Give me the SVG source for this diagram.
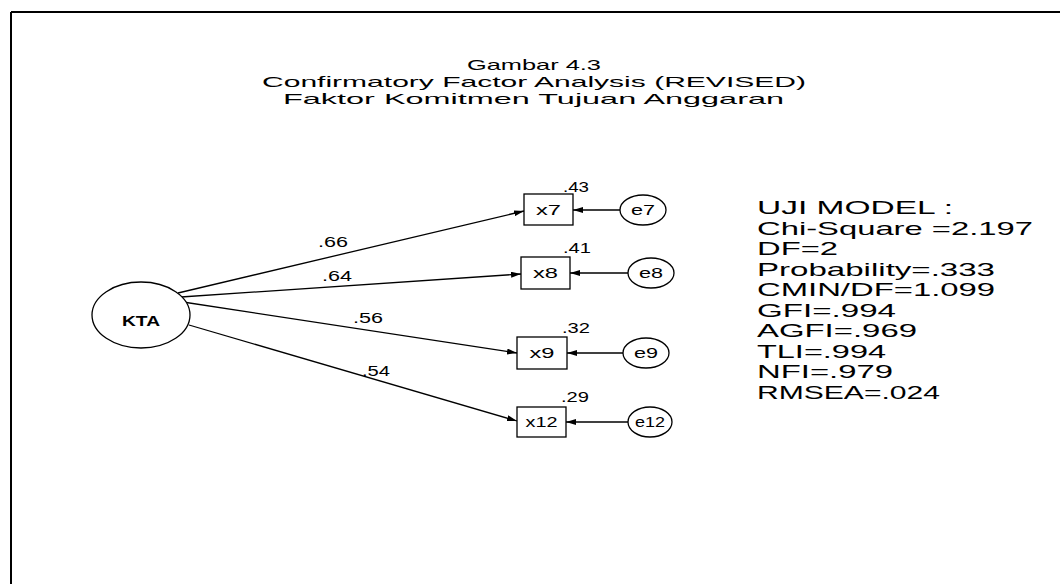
<svg xmlns="http://www.w3.org/2000/svg" width="1060" height="584" viewBox="0 0 1060 584">
<style>
  .t{font-family:"Liberation Sans",Arial,sans-serif;fill:#000}
  .title{font-size:15px}
  .fit{font-size:19px}
  .lbl{font-size:14px}
  .nd{font-size:14px}
  .shape{fill:#fff;stroke:#000;stroke-width:1.3}
  .edge{stroke:#000;stroke-width:1.3;fill:none}
</style>
<defs>
  <marker id="arr" markerUnits="userSpaceOnUse" viewBox="0 0 10 6" refX="10" refY="3" markerWidth="10" markerHeight="6" orient="auto">
    <path d="M0,0 L10,3 L0,6 Z" fill="#000"/>
  </marker>
</defs>
<rect x="0" y="0" width="1060" height="584" fill="#fff"/>
<g id="frame">
  <line x1="11" y1="12" x2="1060" y2="12" stroke="#000" stroke-width="2"/>
  <line x1="11" y1="12" x2="11" y2="584" stroke="#000" stroke-width="2"/>
</g>
<g id="title">
  <text class="t title" x="467" y="70" textLength="134" lengthAdjust="spacingAndGlyphs">Gambar 4.3</text>
  <text class="t title" x="262" y="87" textLength="544" lengthAdjust="spacingAndGlyphs">Confirmatory Factor Analysis (REVISED)</text>
  <text class="t title" x="283" y="104" textLength="501" lengthAdjust="spacingAndGlyphs">Faktor Komitmen Tujuan Anggaran</text>
</g>
<g id="connectors">
  <line class="edge" x1="178" y1="293" x2="524" y2="211" marker-end="url(#arr)"/>
  <line class="edge" x1="181" y1="297" x2="521" y2="274" marker-end="url(#arr)"/>
  <line class="edge" x1="183" y1="302" x2="517" y2="353" marker-end="url(#arr)"/>
  <line class="edge" x1="189" y1="325" x2="517" y2="421" marker-end="url(#arr)"/>
  <line class="edge" x1="620" y1="210" x2="573" y2="210" marker-end="url(#arr)"/>
  <line class="edge" x1="628" y1="273" x2="570" y2="273" marker-end="url(#arr)"/>
  <line class="edge" x1="623" y1="353" x2="567" y2="353" marker-end="url(#arr)"/>
  <line class="edge" x1="628" y1="422" x2="566" y2="422" marker-end="url(#arr)"/>
  <text class="t lbl" x="318" y="247" textLength="30" lengthAdjust="spacingAndGlyphs">.66</text>
  <text class="t lbl" x="322" y="281" textLength="30" lengthAdjust="spacingAndGlyphs">.64</text>
  <text class="t lbl" x="353" y="323" textLength="30" lengthAdjust="spacingAndGlyphs">.56</text>
  <text class="t lbl" x="362" y="376" textLength="28" lengthAdjust="spacingAndGlyphs">.54</text>
</g>
<g id="KTA">
  <ellipse class="shape" cx="141" cy="315" rx="49" ry="33"/>
  <text class="t nd" x="141" y="326" text-anchor="middle" textLength="38" lengthAdjust="spacingAndGlyphs" font-weight="bold">KTA</text>
</g>
<g id="x7">
  <rect class="shape" x="524" y="194" width="49" height="31"/>
  <text class="t nd" x="548.5" y="215" text-anchor="middle" textLength="25" lengthAdjust="spacingAndGlyphs">x7</text>
  <text class="t lbl" x="563" y="192" textLength="26" lengthAdjust="spacingAndGlyphs">.43</text>
</g>
<g id="e7">
  <ellipse class="shape" cx="643" cy="210" rx="23" ry="15"/>
  <text class="t nd" x="643" y="215" text-anchor="middle" textLength="24" lengthAdjust="spacingAndGlyphs">e7</text>
</g>
<g id="x8">
  <rect class="shape" x="521" y="257" width="49" height="32"/>
  <text class="t nd" x="545.5" y="278" text-anchor="middle" textLength="25" lengthAdjust="spacingAndGlyphs">x8</text>
  <text class="t lbl" x="563" y="253" textLength="28" lengthAdjust="spacingAndGlyphs">.41</text>
</g>
<g id="e8">
  <ellipse class="shape" cx="651" cy="273" rx="23" ry="15"/>
  <text class="t nd" x="651" y="278" text-anchor="middle" textLength="24" lengthAdjust="spacingAndGlyphs">e8</text>
</g>
<g id="x9">
  <rect class="shape" x="517" y="337" width="50" height="32"/>
  <text class="t nd" x="542" y="358" text-anchor="middle" textLength="25" lengthAdjust="spacingAndGlyphs">x9</text>
  <text class="t lbl" x="562" y="333" textLength="28" lengthAdjust="spacingAndGlyphs">.32</text>
</g>
<g id="e9">
  <ellipse class="shape" cx="646" cy="353" rx="23" ry="15"/>
  <text class="t nd" x="646" y="358" text-anchor="middle" textLength="24" lengthAdjust="spacingAndGlyphs">e9</text>
</g>
<g id="x12">
  <rect class="shape" x="517" y="407" width="49" height="30"/>
  <text class="t nd" x="541.5" y="427" text-anchor="middle" textLength="32" lengthAdjust="spacingAndGlyphs">x12</text>
  <text class="t lbl" x="561" y="402" textLength="28" lengthAdjust="spacingAndGlyphs">.29</text>
</g>
<g id="e12">
  <ellipse class="shape" cx="650" cy="422" rx="22" ry="15"/>
  <text class="t nd" x="650" y="427" text-anchor="middle" textLength="30" lengthAdjust="spacingAndGlyphs">e12</text>
</g>
<g id="fit">
  <text class="t fit" x="757" y="214" textLength="196" lengthAdjust="spacingAndGlyphs">UJI MODEL :</text>
  <text class="t fit" x="757" y="235" textLength="276" lengthAdjust="spacingAndGlyphs">Chi-Square =2.197</text>
  <text class="t fit" x="757" y="255" textLength="81" lengthAdjust="spacingAndGlyphs">DF=2</text>
  <text class="t fit" x="757" y="276" textLength="238" lengthAdjust="spacingAndGlyphs">Probability=.333</text>
  <text class="t fit" x="757" y="296" textLength="238" lengthAdjust="spacingAndGlyphs">CMIN/DF=1.099</text>
  <text class="t fit" x="757" y="317" textLength="139" lengthAdjust="spacingAndGlyphs">GFI=.994</text>
  <text class="t fit" x="757" y="337" textLength="160" lengthAdjust="spacingAndGlyphs">AGFI=.969</text>
  <text class="t fit" x="757" y="358" textLength="129" lengthAdjust="spacingAndGlyphs">TLI=.994</text>
  <text class="t fit" x="757" y="378" textLength="136" lengthAdjust="spacingAndGlyphs">NFI=.979</text>
  <text class="t fit" x="757" y="399" textLength="183" lengthAdjust="spacingAndGlyphs">RMSEA=.024</text>
</g>
</svg>
